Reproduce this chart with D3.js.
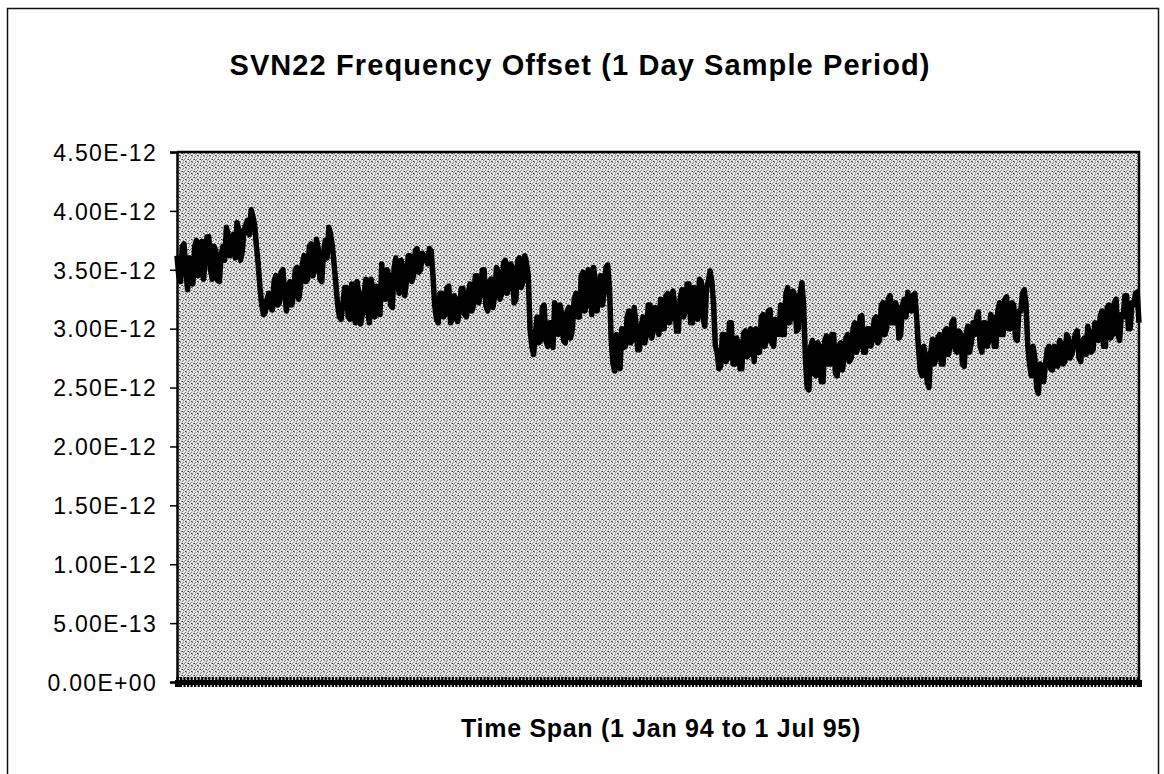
<!DOCTYPE html>
<html>
<head>
<meta charset="utf-8">
<script src="https://cdn.jsdelivr.net/npm/d3@7"></script>
<style>
  body { margin: 0; background: #fff; }
  text { font-family: "Liberation Sans", Arial, sans-serif; fill: #000; }
</style>
</head>
<body>
<script>
// frequency offset, units of 1E-12, one reading per day (1 Jan 94 .. 1 Jul 95)
const offset = [
  3.62, 3.45, 3.40, 3.70, 3.72, 3.50, 3.33, 3.60, 3.55, 3.38, 3.70, 3.75,
  3.45, 3.66, 3.74, 3.42, 3.58, 3.78, 3.78, 3.50, 3.42, 3.70, 3.66, 3.41, 3.40, 3.62,
  3.70, 3.58, 3.86, 3.80, 3.62, 3.72, 3.80, 3.60, 3.90, 3.84, 3.58, 3.66, 3.84, 3.88,
  3.92, 3.80, 4.01, 3.95, 3.88, 3.70,
  3.55, 3.35, 3.20, 3.12, 3.14, 3.25,
  3.30, 3.18, 3.16, 3.40, 3.45, 3.20, 3.22, 3.48, 3.50, 3.30,
  3.15, 3.35, 3.40, 3.20, 3.28, 3.50, 3.52, 3.25, 3.36, 3.55,
  3.62, 3.40, 3.42, 3.70, 3.72, 3.45, 3.50, 3.76, 3.68, 3.42, 3.40, 3.65, 3.75, 3.60,
  3.86, 3.80, 3.70, 3.55,
  3.38, 3.20, 3.10, 3.08, 3.22, 3.35,
  3.35, 3.10, 3.08, 3.38, 3.25, 3.05, 3.40, 3.30, 3.04, 3.12,
  3.30, 3.42, 3.15, 3.05, 3.42, 3.30, 3.10, 3.36, 3.32, 3.12,
  3.55, 3.30, 3.25, 3.50, 3.45, 3.20, 3.18, 3.52, 3.60, 3.35, 3.30, 3.58, 3.52, 3.28, 3.40, 3.62,
  3.62, 3.40, 3.45, 3.66, 3.68, 3.48, 3.50, 3.64, 3.62, 3.58, 3.55, 3.68, 3.66, 3.45,
  3.20, 3.08, 3.05, 3.30, 3.30, 3.10, 3.12, 3.35, 3.36, 3.05,
  3.08, 3.28, 3.25, 3.06, 3.15, 3.34, 3.34, 3.12, 3.10, 3.30,
  3.38, 3.15, 3.20, 3.45, 3.45, 3.22, 3.30, 3.50, 3.50, 3.20, 3.15, 3.40, 3.42, 3.18, 3.28, 3.52,
  3.48, 3.25, 3.30, 3.56, 3.58, 3.30, 3.35, 3.55, 3.52, 3.22, 3.25, 3.58, 3.60, 3.35, 3.40, 3.62, 3.56, 3.45,
  3.00, 2.85, 2.78, 2.95,
  3.10, 2.88, 2.90, 3.18, 3.20, 2.90, 2.85, 3.05, 3.05, 2.84, 3.22,
  3.10, 2.95, 3.20, 3.12, 2.90, 2.88, 3.15, 3.18, 2.92, 3.00, 3.25,
  3.30, 3.10, 3.10, 3.45, 3.48, 3.15, 3.20, 3.50, 3.40, 3.12,
  3.52, 3.40, 3.15, 3.30, 3.45, 3.20, 3.30, 3.52, 3.54, 3.35,
  2.90, 2.70, 2.64, 2.95, 2.80, 2.66,
  3.00, 2.84, 2.85, 3.10, 3.15, 2.88, 2.90, 3.18, 3.05, 2.82, 2.82,
  3.02, 3.10, 2.88, 2.95, 3.20, 3.20, 2.92, 3.00, 3.18, 3.12, 2.95,
  3.25, 3.00, 3.00, 3.28, 3.30, 3.05, 3.10, 3.32, 3.20, 2.98, 2.98, 3.25, 3.33, 3.10,
  3.15, 3.38, 3.38, 3.05, 3.05, 3.35, 3.30, 3.08, 3.42, 3.40, 3.10, 3.02, 3.35, 3.40,
  3.49, 3.40, 3.20, 2.85,
  2.80, 2.66, 2.68, 2.95, 2.95, 2.72, 2.75, 3.05, 3.05, 2.70, 2.70,
  2.92, 2.88, 2.66, 2.66, 2.96, 2.98, 2.76, 2.78, 3.00, 2.90, 2.72,
  3.00, 2.80, 2.80, 3.10, 3.12, 2.85, 2.90, 3.15, 3.16, 2.88, 2.85, 3.08, 3.05, 2.95,
  3.20, 2.95, 2.95, 3.30, 3.35, 3.05, 3.10, 3.32, 3.28, 2.98, 3.00, 3.30, 3.39, 3.20,
  2.75, 2.50, 2.48, 2.85, 2.90, 2.62, 2.60, 2.88, 2.85, 2.55, 2.55, 2.90, 2.94, 2.70,
  2.70, 2.95, 2.95, 2.62, 2.60, 2.85, 2.88, 2.65, 2.75, 2.92,
  2.95, 2.72, 2.75, 3.00, 3.05, 2.80, 2.85, 3.10, 3.11, 2.80, 2.80, 3.00, 3.00, 2.85, 2.90, 3.08,
  3.10, 2.88, 2.90, 3.20, 3.22, 2.95, 3.00, 3.26, 3.28, 3.05, 3.05, 3.22, 3.18, 2.92, 2.95, 3.20, 3.25, 3.10,
  3.31, 3.20, 3.15, 3.28, 3.30, 3.10,
  2.85, 2.65, 2.60, 2.85, 2.78, 2.55, 2.50, 2.80, 2.91, 2.70,
  2.75, 2.92, 2.95, 2.70, 2.70, 2.98, 3.00, 2.78, 2.85, 3.05, 3.08,
  2.82, 2.80, 2.98, 2.95, 2.70, 2.68, 2.95, 3.02, 2.80, 2.88, 3.05,
  2.95, 3.10, 3.14, 2.85, 2.80, 3.05, 3.05, 2.85, 2.90, 3.12,
  3.10, 2.85, 2.85, 3.15, 3.22, 2.95, 2.95, 3.25, 3.27, 3.00,
  3.00, 3.22, 3.20, 2.92, 2.90, 3.15, 3.15, 3.30, 3.33, 3.20,
  2.85, 2.70, 2.60, 2.85, 2.75, 2.50, 2.45, 2.70, 2.65, 2.55,
  2.70, 2.82, 2.85, 2.66, 2.65, 2.85, 2.80, 2.68, 2.90, 2.88, 2.70, 2.72, 2.95, 2.92, 2.75, 2.78,
  2.88, 2.96, 2.98, 2.75, 2.72, 2.90, 2.92, 2.78, 3.02, 2.95, 2.80, 2.82, 3.05, 3.00, 2.90, 3.10,
  3.15, 2.85, 2.85, 3.18, 3.20, 2.92, 2.95, 3.22, 3.25, 2.95, 2.90,
  3.12, 3.10, 3.28, 3.28, 3.00, 3.00, 3.22, 3.20, 3.30, 3.31, 3.05
];
const yTicks = [0, 0.5, 1, 1.5, 2, 2.5, 3, 3.5, 4, 4.5];
const yTickLabels = ["0.00E+00", "5.00E-13", "1.00E-12", "1.50E-12", "2.00E-12",
                     "2.50E-12", "3.00E-12", "3.50E-12", "4.00E-12", "4.50E-12"];
const title = "SVN22 Frequency Offset (1 Day Sample Period)";
const xTitle = "Time Span (1 Jan 94 to 1 Jul 95)";

const W = 1164, H = 774;
const plot = {left: 177, right: 1139, top: 152, bottom: 682};

const svg = d3.select("body").append("svg")
    .attr("width", W)
    .attr("height", H)
    .attr("xmlns", "http://www.w3.org/2000/svg");

// halftone-like fill of the plot area (6x6 tile, scattered dots)
const pat = svg.append("defs").append("pattern")
    .attr("id", "dots")
    .attr("patternUnits", "userSpaceOnUse")
    .attr("x", 0).attr("y", 0)
    .attr("width", 6).attr("height", 6);
pat.append("rect").attr("width", 6).attr("height", 6).style("fill", "#dcdcdc");
[[1, 0], [4, 1], [3, 2], [0, 3], [5, 3], [2, 4], [1, 5], [4, 5]].forEach(p => {
  pat.append("rect").attr("x", p[0]).attr("y", p[1]).attr("width", 1).attr("height", 1)
     .style("fill", "#f8f8f8");
});
[[0, 0], [3, 0], [2, 1], [5, 2], [1, 3], [4, 3], [3, 4], [0, 5]].forEach(p => {
  pat.append("rect").attr("x", p[0]).attr("y", p[1]).attr("width", 1).attr("height", 1)
     .style("fill", "#808080");
});
[[2, 3], [5, 5]].forEach(p => {
  pat.append("rect").attr("x", p[0]).attr("y", p[1]).attr("width", 1).attr("height", 1)
     .style("fill", "#333");
});

// outer frame
svg.append("rect")
    .attr("x", 7.5).attr("y", 8.5)
    .attr("width", 1151).attr("height", 800)
    .style("fill", "none")
    .style("stroke", "#111")
    .style("stroke-width", 1.5);

svg.append("text")
    .attr("x", 580).attr("y", 75)
    .attr("text-anchor", "middle")
    .style("font-size", "29px")
    .style("font-weight", "bold")
    .style("letter-spacing", "1.1px")
    .text(title);

const x = d3.scaleLinear().domain([0, offset.length - 1]).range([plot.left, plot.right]);
const y = d3.scaleLinear().domain([0, 4.5]).range([plot.bottom, plot.top]);

svg.append("rect")
    .attr("x", plot.left).attr("y", plot.top)
    .attr("width", plot.right - plot.left).attr("height", plot.bottom - plot.top)
    .style("fill", "url(#dots)")
    .style("shape-rendering", "crispEdges");

// left axis
const yAxis = svg.append("g")
    .attr("transform", `translate(${plot.left},0)`)
    .call(d3.axisLeft(y).tickValues(yTicks).tickSize(7).tickPadding(13)
          .tickFormat((d, i) => yTickLabels[i]));
yAxis.select(".domain").style("stroke", "#000").style("stroke-width", 2.5);
yAxis.selectAll(".tick line").style("stroke", "#000").style("stroke-width", 1.5);
yAxis.selectAll(".tick text")
    .style("font-size", "23px")
    .style("letter-spacing", "1.3px")
    .attr("dy", "0.36em");

// top and right border
svg.append("path")
    .attr("d", `M${plot.left},${plot.top}H${plot.right}V${plot.bottom}`)
    .style("fill", "none")
    .style("stroke", "#000")
    .style("stroke-width", 2.5);

// bottom axis: crossing tick marks every other day give the dark band
const xAxis = svg.append("g")
    .attr("transform", `translate(0,${plot.bottom})`)
    .call(d3.axisBottom(x).tickValues(d3.range(0, offset.length, 2)).tickSize(5).tickFormat(""));
xAxis.select(".domain").style("stroke", "#000").style("stroke-width", 5);
xAxis.selectAll(".tick line").attr("y1", -5).style("stroke", "#000").style("stroke-width", 2.2);

// series
const line = d3.line()
    .x((d, i) => x(i))
    .y(d => y(d));
svg.append("path")
    .datum(offset)
    .attr("d", line)
    .style("fill", "none")
    .style("stroke", "#000")
    .style("stroke-width", 5.5)
    .style("stroke-linejoin", "round");

svg.append("text")
    .attr("x", 661).attr("y", 737)
    .attr("text-anchor", "middle")
    .style("font-size", "25px")
    .style("font-weight", "bold")
    .style("letter-spacing", "0.7px")
    .text(xTitle);
</script>
</body>
</html>
